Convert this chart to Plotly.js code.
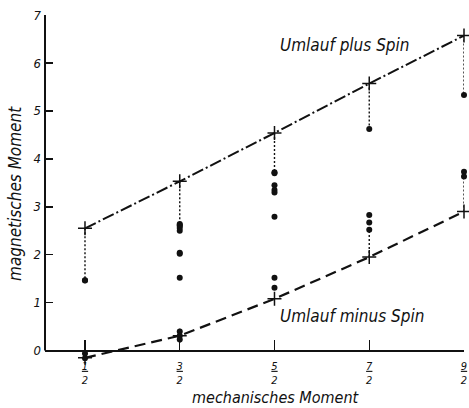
<!DOCTYPE html>
<html><head><meta charset="utf-8">
<script src="https://cdn.plot.ly/plotly-3.0.1.min.js"></script>
<style>html,body{margin:0;padding:0;background:#fff}</style>
</head><body><div id="chart" style="width:469px;height:408px"></div>
<script>
// mechanical moment j values and tick labels (fractions)
const jValues = [0.5, 1.5, 2.5, 3.5, 4.5];
const tickNum = ['1', '3', '5', '7', '9'];
const tickDen = ['2', '2', '2', '2', '2'];
// Schmidt-type lines
const plusSpin  = [2.55, 3.53, 4.54, 5.57, 6.57];
const minusSpin = [-0.15, 0.31, 1.08, 1.95, 2.90];
// measured magnetic moments per j
const dots_j12 = [1.46, 1.47, -0.06, -0.16];
const dots_j32 = [2.64, 2.62, 2.60, 2.56, 2.50, 2.04, 2.02, 1.52, 0.40, 0.31, 0.23];
const dots_j52 = [3.72, 3.70, 3.45, 3.35, 3.30, 2.79, 1.52, 1.31];
const dots_j72 = [4.62, 2.83, 2.67, 2.52];
const dots_j92 = [5.33, 3.73, 3.63];
const lowerLinkIdx = [3, 4];

const allDots = [dots_j12, dots_j32, dots_j52, dots_j72, dots_j92];
const FONT = 'DejaVu Sans Condensed, Liberation Sans Narrow, sans-serif';

const dotX = [], dotY = [];
allDots.forEach((arr, i) => arr.forEach(v => { dotX.push(jValues[i]); dotY.push(v); }));

const linkX = [], linkY = [];
allDots.forEach((arr, i) => {
  linkX.push(jValues[i], jValues[i], null);
  linkY.push(plusSpin[i], Math.max(...arr), null);
});
lowerLinkIdx.forEach(i => {
  const above = allDots[i].filter(v => v > minusSpin[i]);
  linkX.push(jValues[i], jValues[i], null);
  linkY.push(minusSpin[i], Math.min(...above), null);
});

const traces = [
  {x: linkX, y: linkY, mode: 'lines', line: {color: '#111', width: 1.4, dash: '2px,2px'}, hoverinfo: 'skip'},
  {x: jValues, y: plusSpin, mode: 'lines+markers', line: {color: '#111', width: 2, dash: '12px,3px,2px,3px'},
   marker: {symbol: 'cross-thin', size: 10, line: {color: '#111', width: 1.5}}, cliponaxis: false},
  {x: jValues, y: minusSpin, mode: 'lines+markers', line: {color: '#111', width: 2.2, dash: '11px,6px'},
   marker: {symbol: 'cross-thin', size: 10, line: {color: '#111', width: 1.5}}, cliponaxis: false},
  {x: dotX, y: dotY, mode: 'markers', marker: {symbol: 'circle', size: 6, color: '#111'}, cliponaxis: false}
];

const yMin = -0.3, yMax = 7;
const layout = {
  width: 469, height: 408,
  margin: {l: 45, r: 5, t: 15, b: 43},
  paper_bgcolor: '#fff', plot_bgcolor: '#fff',
  showlegend: false,
  font: {family: FONT, color: '#111'},
  xaxis: {
    range: [0.078, 4.5], tickmode: 'array', tickvals: jValues,
    ticktext: tickNum.map((n, i) => '<u>' + n + '</u><br>' + tickDen[i]),
    anchor: 'free', position: (0 - yMin) / (yMax - yMin),
    ticks: 'inside', ticklen: 10, tickwidth: 1.5, tickcolor: '#111',
    showline: true, linewidth: 2, linecolor: '#111', showgrid: false, zeroline: false,
    tickfont: {family: FONT, size: 11, style: 'italic'}, ticklabelstandoff: 5
  },
  yaxis: {
    range: [yMin, yMax], tickmode: 'linear', tick0: 0, dtick: 1,
    ticks: 'inside', ticklen: 8, tickwidth: 1.5, tickcolor: '#111',
    showline: false, showgrid: false, zeroline: false,
    tickfont: {family: FONT, size: 13, style: 'italic'}, ticklabelstandoff: 3
  },
  shapes: [
    {type: 'line', xref: 'paper', yref: 'y', x0: 0, x1: 0, y0: 0, y1: yMax, line: {color: '#111', width: 2}}
  ],
  annotations: [
    {text: 'Umlauf plus Spin', x: 2.54, y: 6.37, xref: 'x', yref: 'y', xanchor: 'left', yanchor: 'middle',
     showarrow: false, font: {family: FONT, size: 17, style: 'italic'}},
    {text: 'Umlauf minus Spin', x: 2.54, y: 0.72, xref: 'x', yref: 'y', xanchor: 'left', yanchor: 'middle',
     showarrow: false, font: {family: FONT, size: 17, style: 'italic'}}
  ]
};
// axis titles as annotations placed in paper fractions
const pw = 469 - 45 - 5, ph = 408 - 15 - 43, pb = 408 - 43;
layout.annotations.push({text: 'mechanisches Moment', xref: 'paper', yref: 'paper',
  x: (276 - 45) / pw, y: (pb - 397) / ph, xanchor: 'center', yanchor: 'middle', showarrow: false,
  font: {family: FONT, size: 16, style: 'italic'}});
layout.annotations.push({text: 'magnetisches Moment', xref: 'paper', yref: 'paper',
  x: (15 - 45) / pw, y: (pb - 194) / ph, xanchor: 'center', yanchor: 'middle', showarrow: false, textangle: -90,
  font: {family: FONT, size: 17, style: 'italic'}});

Plotly.newPlot('chart', traces, layout, {displayModeBar: false, staticPlot: true});
</script></body></html>
